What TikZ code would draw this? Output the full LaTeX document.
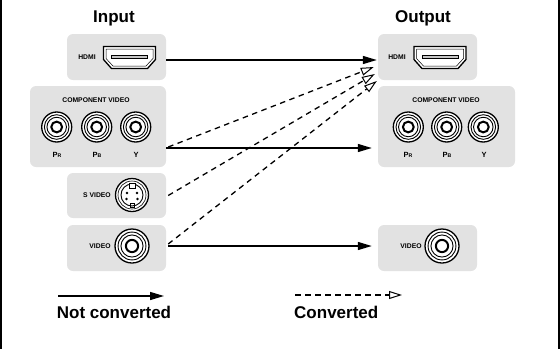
\documentclass[tikz,border=0pt]{standalone}
\usepackage{fontspec}
\setmainfont{Liberation Sans}
\usetikzlibrary{arrows.meta, positioning, calc}
\definecolor{panelgray}{gray}{0.885}

\begin{document}
\begin{tikzpicture}[x=1pt, y=-1pt,
    panel/.style={fill=panelgray, rounded corners=6pt, inner sep=0pt},
    title/.style={font=\fontsize{17}{20}\selectfont\bfseries, anchor=base, inner sep=0pt},
    tag/.style={font=\fontsize{6.8}{8}\selectfont\bfseries, inner sep=0pt},
    pin/.style={font=\fontsize{7.5}{8}\selectfont\bfseries, inner sep=0pt},
    plain/.style={line width=1.4pt, -{Triangle[length=14pt,width=8pt]}},
    conv/.style={line width=1.3pt, dash pattern=on 5.5pt off 4.5pt,
        -{Triangle[open,length=13pt,width=8pt,line width=1pt]}},
    pics/rca/.style={code={
        \draw[line width=1.3pt, fill=white] (0,0) circle (#1);
        \draw[line width=0.9pt] (0,0) circle ({0.82*#1});
        \draw[line width=0.9pt] (0,0) circle ({0.65*#1});
        \draw[line width=2pt] (0,0) circle ({0.36*#1});
    }},
    pics/hdmiport/.style={code={
        \draw[line width=1.3pt, fill=white] (-26,-11) -- (26,-11) -- (26,2)
            -- (18,11) -- (-18,11) -- (-26,2) -- cycle;
        \draw[line width=0.5pt] (-23.5,-8.5) -- (23.5,-8.5) -- (23.5,1)
            -- (16.5,8.5) -- (-16.5,8.5) -- (-23.5,1) -- cycle;
        \draw[line width=0.5pt, fill=gray!45] (-18,-2) rectangle (18,1);
    }},
    pics/svport/.style={code={
        \draw[line width=1.3pt, fill=white] (0,0) circle (16.5);
        \draw[line width=0.6pt] (0,0) circle (14);
        \draw[line width=0.9pt] (0,0) circle (11);
        \draw[line width=0.8pt, fill=white] (-3,-11.5) rectangle (3,-6.5);
        \draw[line width=0.8pt] (-2,8) rectangle (2,12.5);
        \foreach \px/\py in {-5/-2, 5/-2, -5.5/4, 5.5/4}
            \fill (\px,\py) circle (1.4);
    }},
  ]
    \useasboundingbox (0,0) rectangle (560,349);
    \draw[line width=1.6pt] (0.8,0) -- (0.8,349) (559.2,0) -- (559.2,349);

    % titles
    \node[title] (inTitle) at (114,22) {Input};
    \node[title] (outTitle) at (423,22) {Output};

    % input panels
    \node[panel, minimum width=99pt, minimum height=46pt] (hdmiIn) at (116.5,57) {};
    \node[panel, minimum width=136pt, minimum height=81pt] (compIn) at (98,126.5) {};
    \node[panel, minimum width=99pt, minimum height=45pt] (svIn) at (116.5,195.5) {};
    \node[panel, minimum width=99pt, minimum height=46pt] (vidIn) at (116.5,248) {};

    % output panels
    \node[panel, minimum width=99pt, minimum height=46pt] (hdmiOut) at (427.5,57) {};
    \node[panel, minimum width=137pt, minimum height=81pt] (compOut) at (446.5,126.5) {};
    \node[panel, minimum width=99pt, minimum height=46pt] (vidOut) at (427.5,248) {};

    % HDMI
    \node[tag] (hdmiInTag) at (87,57) {HDMI};
    \pic at (129.5,57.5) {hdmiport};
    \node[tag] (hdmiOutTag) at (397,57) {HDMI};
    \pic at (440,57.5) {hdmiport};

    % component video
    \node[tag] (compInTag) at (96,100) {COMPONENT VIDEO};
    \foreach \jx in {56.7, 96.7, 135.7} \pic at (\jx,127) {rca=15};
    \node[pin] (prIn) at (57,155) {P\kern0.2pt{\fontsize{5.2}{6}\selectfont R}};
    \node[pin] (pbIn) at (97,155) {P\kern0.2pt{\fontsize{5.2}{6}\selectfont B}};
    \node[pin] (yIn) at (136,155) {Y};
    \node[tag] (compOutTag) at (446,100) {COMPONENT VIDEO};
    \foreach \jx in {408.3, 446.7, 483.3} \pic at (\jx,127) {rca=15};
    \node[pin] (prOut) at (408,155) {P\kern0.2pt{\fontsize{5.2}{6}\selectfont R}};
    \node[pin] (pbOut) at (447,155) {P\kern0.2pt{\fontsize{5.2}{6}\selectfont B}};
    \node[pin] (yOut) at (484,155) {Y};

    % S video and video
    \node[tag] (svTag) at (97,195) {S VIDEO};
    \pic at (132,195) {svport};
    \node[tag] (vidInTag) at (100,246) {VIDEO};
    \pic at (132,246) {rca=17};
    \node[tag] (vidOutTag) at (411,246) {VIDEO};
    \pic at (442,246) {rca=17};

    % connections
    \path[plain]
    ([yshift=-3pt]hdmiIn.east) edge ([yshift=-3pt,xshift=-1pt]hdmiOut.west)
    ([yshift=-21.5pt]compIn.east) edge ([yshift=-21.5pt,xshift=-6pt]compOut.west)
    ([yshift=2pt,xshift=2pt]vidIn.east) edge ([yshift=2pt,xshift=-6pt]vidOut.west)
    ;
    \path[conv]
    ([yshift=-20.5pt,xshift=2pt]compIn.east) edge ([xshift=-4pt,yshift=-10pt]hdmiOut.west)
    ([xshift=2pt]svIn.east) edge ([xshift=-3pt,yshift=-17pt]hdmiOut.west)
    ([yshift=4pt,xshift=2pt]vidIn.east) edge ([xshift=-1pt,yshift=-24pt]hdmiOut.west)
    ;

    % key
    \coordinate (keyA) at (58,296);
    \coordinate (keyB) at (164,296);
    \coordinate (keyC) at (295,295);
    \coordinate (keyD) at (402,295);
    \draw[plain] (keyA) -- (keyB);
    \draw[conv] (keyC) -- (keyD);
    \node[title] (keyPlain) at (114,318) {Not converted};
    \node[title, anchor=base west] (keyConv) at (294,318) {Converted};
\end{tikzpicture}
\end{document}
